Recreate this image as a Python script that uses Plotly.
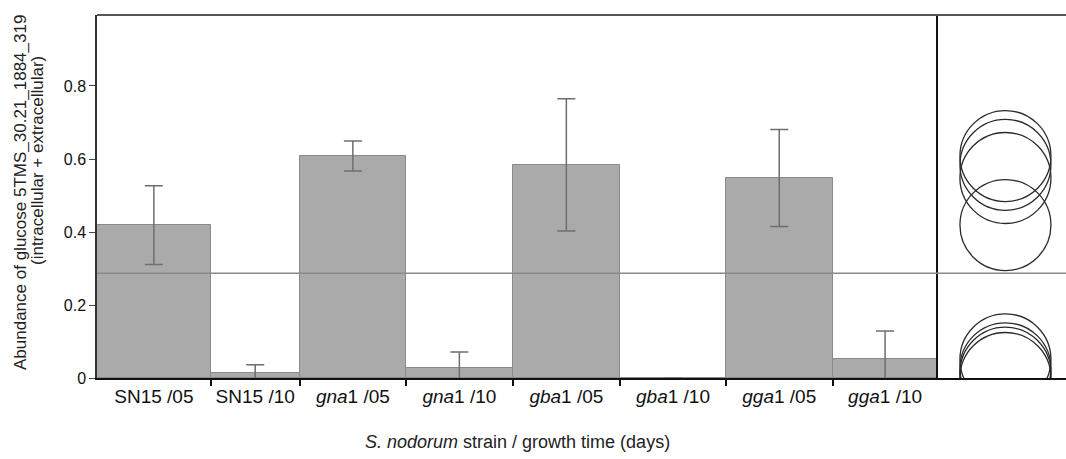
import plotly.graph_objects as go

# ---- data ----
categories = ["SN15 /05", "SN15 /10", "<i>gna</i>1 /05", "<i>gna</i>1 /10",
              "<i>gba</i>1 /05", "<i>gba</i>1 /10", "<i>gga</i>1 /05", "<i>gga</i>1 /10"]
means = [0.419, 0.0145, 0.608, 0.0265, 0.584, 0.0, 0.548, 0.051]
errors = [0.108, 0.022, 0.041, 0.045, 0.181, None, 0.133, 0.078]
grand_mean = 0.287
y_tick_vals = [0, 0.2, 0.4, 0.6, 0.8]
y_tick_text = ["0", "0.2", "0.4", "0.6", "0.8"]

# ---- style / layout ----
bar_widths = [1.082, 0.847, 1.0115, 1.0153, 1.021, 1.0087, 1.0134, 1.001]
edges = [0.0]
for w in bar_widths:
    edges.append(edges[-1] + w)
centers = [(edges[i] + edges[i + 1]) / 2 for i in range(len(bar_widths))]

FONT = "Liberation Sans"
W, H = 1066, 459
ML, MR, MT, MB = 97, 0, 15, 81
split = (937.7 - ML) / (W - ML - MR)

fig = go.Figure()
fig.add_trace(go.Bar(
    x=centers, y=means, width=bar_widths,
    marker=dict(color="#aaaaaa", line=dict(color="#8a8a8a", width=1)),
    error_y=dict(type="data", array=errors, visible=True,
                 color="#6e6e6e", thickness=1.5, width=9),
    xaxis="x", yaxis="y", showlegend=False,
))
fig.add_trace(go.Scatter(
    x=[0] * len(means), y=means, mode="markers",
    marker=dict(symbol="circle-open", size=91, color="#2a2a2a",
                line=dict(width=1.3, color="#2a2a2a")),
    xaxis="x2", yaxis="y2", showlegend=False, cliponaxis=True,
))

yr = [0, 0.9945]
fig.update_layout(
    width=W, height=H,
    margin=dict(l=ML, r=MR, t=MT, b=MB, pad=0),
    paper_bgcolor="white", plot_bgcolor="white",
    font=dict(family=FONT, size=17, color="#222222"),
    bargap=0,
    xaxis=dict(domain=[0, split], range=[0, edges[-1]],
               tickmode="array", tickvals=centers, ticktext=categories,
               ticks="", showgrid=False, zeroline=False,
               showline=True, linecolor="#111111", linewidth=2,
               tickfont=dict(size=19, color="#111111"),
               minor=dict(tickmode="array", tickvals=edges[1:-1], ticks="outside",
                          ticklen=6, tickcolor="#111111", tickwidth=1.5,
                          showgrid=False)),
    yaxis=dict(domain=[0, 1], range=yr, tickmode="array",
               tickvals=y_tick_vals, ticktext=y_tick_text,
               ticks="outside", ticklen=6, tickcolor="#444444", tickwidth=1,
               showgrid=False, zeroline=False,
               showline=True, linecolor="#333333", linewidth=1.5,
               tickfont=dict(size=16, color="#111111")),
    xaxis2=dict(domain=[split, 1], range=[-0.528, 0.472], anchor="y2",
                showticklabels=False, ticks="", showgrid=False, zeroline=False,
                showline=True, linecolor="#111111", linewidth=2),
    yaxis2=dict(domain=[0, 1], range=yr, anchor="x2",
                showticklabels=False, ticks="", showgrid=False, zeroline=False,
                showline=True, linecolor="#111111", linewidth=1.5),
    shapes=[
        dict(type="line", xref="paper", yref="y", x0=0, x1=1,
             y0=grand_mean, y1=grand_mean, line=dict(color="#8a8a8a", width=1.5),
             layer="above"),
        dict(type="line", xref="paper", yref="paper", x0=0, x1=1, y0=1, y1=1,
             line=dict(color="#555555", width=2)),
    ],
    annotations=[
        dict(text="Abundance of glucose 5TMS_30.21_1884_319", textangle=-90,
             xref="paper", yref="paper", x=(20 - ML) / (W - ML - MR),
             y=1 - (193 - MT) / (H - MT - MB), xanchor="center", yanchor="middle",
             showarrow=False, font=dict(size=17, color="#222222")),
        dict(text="(intracellular + extracellular)", textangle=-90,
             xref="paper", yref="paper", x=(37 - ML) / (W - ML - MR),
             y=1 - (161 - MT) / (H - MT - MB), xanchor="center", yanchor="middle",
             showarrow=False, font=dict(size=17, color="#222222")),
        dict(text="<i>S. nodorum</i> strain / growth time (days)",
             xref="paper", yref="paper", x=(517 - ML) / (W - ML - MR),
             y=-(442 - (H - MB)) / (H - MT - MB), xanchor="center", yanchor="middle",
             showarrow=False, font=dict(size=18, color="#222222")),
    ],
)

fig.write_html("out.html")
